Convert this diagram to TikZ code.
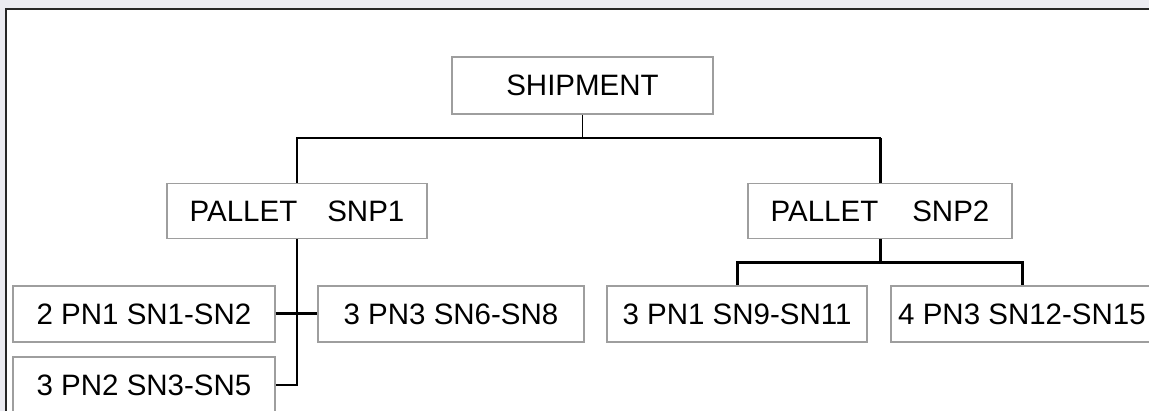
\documentclass[tikz,border=0pt]{standalone}
\usepackage{fontspec}
\setmainfont{Liberation Sans}
\usetikzlibrary{positioning}
\definecolor{boxline}{RGB}{158,158,158}
\definecolor{backshade}{RGB}{235,235,241}
\tikzset{
  elbow/.style={to path={-| (\tikztotarget)}},
  down elbow/.style={to path={|- (\tikztotarget)}}
}

\begin{document}
\begin{tikzpicture}[x=1pt,y=-1pt]
        \useasboundingbox (0,0) rectangle (1149,411);
        \fill[backshade] (0,0) rectangle (1149,411);
        \fill[white] (6,9) rectangle (1149,411);
        \draw[line width=2pt,black!85] (1149,9) -- (6,9) -- (6,411);
        \begin{scope}[every node/.style={draw=boxline,line width=1.2pt,fill=white,inner sep=0pt,minimum height=55pt,font=\fontsize{29.5}{31}\selectfont}]
          \node[minimum width=261pt,minimum height=57pt] (ship) at (582.5,85.5) {SHIPMENT};
          \node[minimum width=260pt] (p1) at (297,211) {PALLET\hspace{30pt}SNP1};
          \node[minimum width=264pt] (p2) at (880,211) {PALLET\hspace{34pt}SNP2};
          \node[minimum width=262pt,minimum height=56pt] (b1) at (144,314) {2 PN1 SN1-SN2};
          \node[minimum width=262pt,minimum height=56pt] (b2) at (144,385) {3 PN2 SN3-SN5};
          \node[minimum width=266pt,minimum height=56pt] (b3) at (451,314) {3 PN3 SN6-SN8};
          \node[minimum width=260pt,minimum height=56pt] (b4) at (737,314) {3 PN1 SN9-SN11};
          \node[minimum width=262pt,minimum height=56pt] (b5) at (1022,314) {4 PN3 SN12-SN15};
        \end{scope}
        \coordinate (top) at (582.5,138);
        \coordinate (mid) at (880,263);
        \begin{scope}[every edge/.style={draw=black,line width=1.2pt}]
          \path (ship) edge (top);
          \path (top) edge[elbow] (p1);
          \path (top) edge[elbow] (p2);
          \path (p1) edge[down elbow] (b2);
        \end{scope}
        \begin{scope}[every edge/.style={draw=black,line width=3pt}]
          \path (p2) edge (top -| p2);
          \path (b1) edge (b3);
          \path (p2) edge (mid);
          \path (mid) edge[elbow] (b4);
          \path (mid) edge[elbow] (b5);
        \end{scope}
      \end{tikzpicture}
\end{document}
